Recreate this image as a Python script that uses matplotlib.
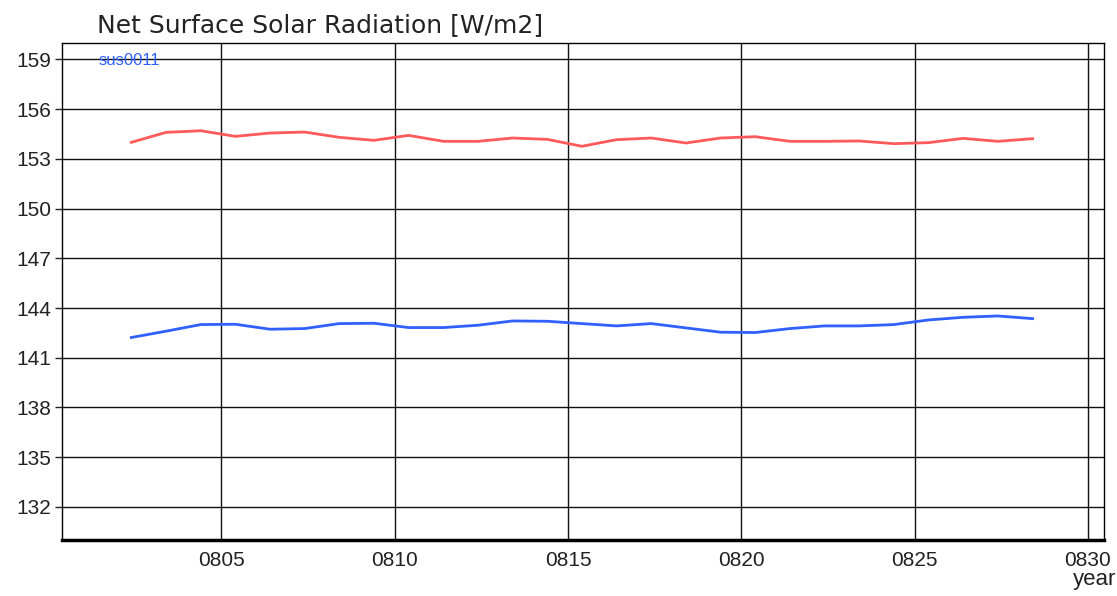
import numpy as np
import matplotlib
matplotlib.use("Agg")
from matplotlib import pyplot as plt

# 年份 (每年一个点)
years = np.arange(802, 829) + 0.4
red_vals = [154.0, 154.6, 154.7, 154.36, 154.56, 154.62, 154.3, 154.12, 154.42,
            154.06, 154.06, 154.26, 154.18, 153.76, 154.16, 154.26, 153.96, 154.26,
            154.34, 154.06, 154.06, 154.08, 153.92, 153.98, 154.24, 154.06, 154.22]
blue_vals = [142.22, 142.6, 143.0, 143.02, 142.72, 142.76, 143.06, 143.08, 142.82,
             142.82, 142.96, 143.22, 143.2, 143.06, 142.92, 143.06, 142.8, 142.54,
             142.52, 142.76, 142.92, 142.92, 143.0, 143.28, 143.44, 143.52, 143.36]
xticks = [805, 810, 815, 820, 825, 830]
xlabels = ["0805", "0810", "0815", "0820", "0825", "0830"]
yticks = list(range(132, 160, 3))

plt.rcParams['font.family'] = ['Liberation Sans', 'DejaVu Sans']

fig = plt.figure(figsize=(11.17, 5.96), dpi=100)
ax = fig.add_axes([0.0555, 0.094, 0.9325, 0.834])

ax.plot(years, red_vals, color="#ff5a5a", lw=2)
ax.plot(years, blue_vals, color="#3060ff", lw=2)

ax.set_xlim(800.4, 830.45)
ax.set_ylim(130, 160)
ax.set_xticks(xticks)
ax.set_xticklabels(xlabels)
ax.set_yticks(yticks)
ax.grid(True, color="#111111", lw=1)
ax.tick_params(axis="x", length=0, pad=8, labelsize=15, colors="#222222")
ax.tick_params(axis="y", length=5, width=1, pad=3, labelsize=15, colors="#222222")
for s in ax.spines.values():
    s.set_color("black")
    s.set_linewidth(1)
ax.spines["bottom"].set_linewidth(2.5)

# 标题和标签
fig.text(0.087, 0.958, "Net Surface Solar Radiation [W/m2]", fontsize=18,
         family=['DejaVu Sans'], color="#222222", va="center", ha="left")
ax.text(0.035, 0.965, "sus0011", transform=ax.transAxes, color="#3060ff",
        fontsize=12, va="center", ha="left")
fig.text(0.999, 0.027, "year", fontsize=16, color="#222222", ha="right", va="center")

plt.savefig("out.png", dpi=100)
